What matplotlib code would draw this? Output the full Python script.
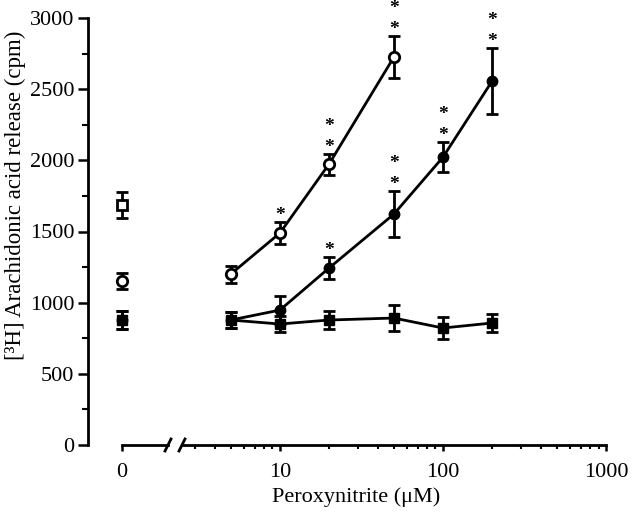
import matplotlib
matplotlib.use('Agg')
import matplotlib.pyplot as plt
from matplotlib.ticker import MultipleLocator, LogLocator, NullFormatter, FixedLocator

plt.rcParams['font.family'] = ['Liberation Serif', 'DejaVu Serif']

# peroxynitrite concentrations (uM)
conc = [5, 10, 20, 50, 100, 200]

# open circles
oc_zero, oc_zero_err = 1152, 53
oc_conc = [5, 10, 20, 50]
oc_vals = [1201, 1489, 1973, 2725]
oc_err = [60, 80, 74, 150]
oc_stars = [0, 1, 2, 2]

# filled circles
fc_zero, fc_zero_err = 878, 60
fc_vals = [878, 948, 1243, 1622, 2022, 2556]
fc_err = [56, 98, 77, 160, 105, 230]
fc_stars = [0, 0, 1, 2, 2, 2]

# filled squares
fs_zero, fs_zero_err = 878, 60
fs_vals = [878, 850, 878, 892, 822, 857]
fs_err = [56, 55, 60, 90, 77, 63]

# open square (control at 0 only)
os_zero, os_zero_err = 1685, 91

fig = plt.figure(figsize=(6.4, 5.2), dpi=100)
ax0 = fig.add_axes([88 / 640, 1 - 445 / 520, 80 / 640, 427 / 520])
ax = fig.add_axes([182 / 640, 1 - 445 / 520, 424 / 640, 427 / 520], sharey=ax0)

lw = 2.0
ekw = dict(capsize=4, elinewidth=lw, capthick=lw, color='black', lw=lw, clip_on=False, zorder=3)

# zero points
ax0.errorbar([0], [os_zero], yerr=[os_zero_err], fmt='s', mfc='white', mec='black', mew=lw, ms=7, **ekw)
ax0.errorbar([0], [oc_zero], yerr=[oc_zero_err], fmt='o', mfc='white', mec='black', mew=lw, ms=7.5, **ekw)
ax0.errorbar([0], [fc_zero], yerr=[fc_zero_err], fmt='o', mfc='black', mec='black', ms=7.5, **ekw)
ax0.errorbar([0], [fs_zero], yerr=[fs_zero_err], fmt='s', mfc='black', mec='black', ms=7, **ekw)

# concentration curves
ax.errorbar(conc, fs_vals, yerr=fs_err, fmt='-s', mfc='black', mec='black', ms=7, **ekw)
ax.errorbar(conc, fc_vals, yerr=fc_err, fmt='-o', mfc='black', mec='black', ms=7.5, **ekw)
ax.errorbar(oc_conc, oc_vals, yerr=oc_err, fmt='-o', mfc='white', mec='black', mew=lw, ms=7.5, **ekw)

# significance stars, stacked above the error bar cap
def add_stars(xs, ys, errs, counts):
    for x, y, e, n in zip(xs, ys, errs, counts):
        for k in range(n):
            ax.annotate('*', (x, y + e), xytext=(0, 2 + 21 * k), textcoords='offset pixels',
                        ha='center', va='baseline', fontsize=14, fontweight='bold',
                        annotation_clip=False)

add_stars(oc_conc, oc_vals, oc_err, oc_stars)
add_stars(conc, fc_vals, fc_err, fc_stars)

# y axis
ax0.set_ylim(0, 3000)
ax0.yaxis.set_major_locator(MultipleLocator(500))
ax0.yaxis.set_minor_locator(MultipleLocator(250))
ax0.tick_params(axis='y', which='major', length=7, width=1.8, labelsize=16, pad=3)
ax0.tick_params(axis='y', which='minor', length=4, width=1.5)
ax0.set_ylabel('[³H] Arachidonic acid release (cpm)', fontsize=16.5)
ax0.yaxis.set_label_coords(-0.78, 0.585)

# zero axis
ax0.set_xlim(-1, 1.35)
ax0.set_xticks([0])
ax0.set_xticklabels(['0'])
ax0.tick_params(axis='x', length=4, width=1.8, labelsize=16, pad=9)
for s in ['top', 'right']:
    ax0.spines[s].set_visible(False)
ax0.spines['bottom'].set_bounds(0, 1.35)
ax0.spines['left'].set_linewidth(2)
ax0.spines['bottom'].set_linewidth(2)
ax0.patch.set_visible(False)

# log axis
ax.set_xscale('log')
ax.set_xlim(2.51, 1000)
ax.xaxis.set_major_locator(FixedLocator([10, 100, 1000]))
ax.set_xticklabels(['10', '100', '1000'])
ax.xaxis.set_minor_locator(LogLocator(base=10, subs=range(2, 10)))
ax.xaxis.set_minor_formatter(NullFormatter())
ax.tick_params(axis='x', which='major', length=4, width=1.8, labelsize=16, pad=9)
ax.tick_params(axis='x', which='minor', length=3, width=1.5)
ax.tick_params(axis='y', which='both', left=False, labelleft=False)
for s in ['top', 'right', 'left']:
    ax.spines[s].set_visible(False)
ax.spines['bottom'].set_linewidth(2)
ax.patch.set_visible(False)
ax.set_xlabel('Peroxynitrite (μM)', fontsize=16)
ax.xaxis.set_label_coords(0.41, -0.1)

# axis break marks
d = 6 / 427
dx = 3 / 424
ax.plot([-dx, dx], [-d, d], transform=ax.transAxes, color='black', lw=2, clip_on=False)
dx0 = 3 / 80
ax0.plot([1 - dx0, 1 + dx0], [-d, d], transform=ax0.transAxes, color='black', lw=2, clip_on=False)

fig.savefig('out.png', dpi=100)
